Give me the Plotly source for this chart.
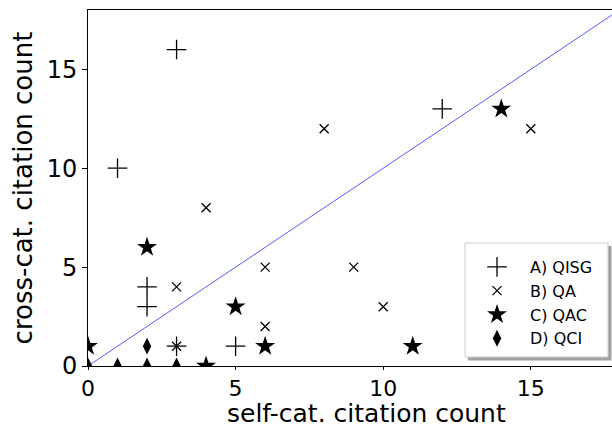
import plotly.graph_objects as go

# A) QISG
a_x = [3, 1, 12, 2, 2, 3, 5]
a_y = [16, 10, 13, 4, 3, 1, 1]
# B) QA
b_x = [8, 15, 4, 6, 9, 10, 3, 6, 3]
b_y = [12, 12, 8, 5, 5, 3, 4, 2, 1]
# C) QAC
c_x = [14, 2, 5, 0, 6, 11, 4]
c_y = [13, 6, 3, 1, 1, 1, 0]
# D) QCI
d_x = [2, 0, 1, 2, 3]
d_y = [1, 0, 0, 0, 0]

diag = [0, 18]
ticks = [0, 5, 10, 15]

fig = go.Figure()
fig.add_trace(go.Scatter(x=diag, y=diag, mode="lines",
                         line=dict(color="rgba(70,70,255,0.9)", width=1),
                         showlegend=False, hoverinfo="skip"))
fig.add_trace(go.Scatter(x=a_x, y=a_y, mode="markers", name="A) QISG",
                         marker=dict(symbol="cross-thin-open", size=14,
                                     line=dict(color="black", width=1.3), color="black")))
fig.add_trace(go.Scatter(x=b_x, y=b_y, mode="markers", name="B) QA",
                         marker=dict(symbol="x-thin-open", size=9,
                                     line=dict(color="black", width=1.3), color="black")))
fig.add_trace(go.Scatter(x=c_x, y=c_y, mode="markers", name="C) QAC",
                         marker=dict(symbol="star", size=15, color="black",
                                     line=dict(width=0))))
fig.add_trace(go.Scatter(x=d_x, y=d_y, mode="markers", name="D) QCI",
                         marker=dict(symbol="diamond-tall", size=12, color="black",
                                     line=dict(width=0))))

# legend frame with shadow
fig.add_shape(type="rect", xref="paper", yref="paper",
              x0=0.725, x1=0.999, y0=0.0154, y1=0.337,
              fillcolor="#a0a0a0", line=dict(width=0), layer="above")
fig.add_shape(type="rect", xref="paper", yref="paper",
              x0=0.7195, x1=0.9924, y0=0.0253, y1=0.3455,
              fillcolor="white", line=dict(color="#cccccc", width=1), layer="above")

# x-axis title (matplotlib centres it on the full, partly cropped axes)
fig.add_annotation(text="self-cat. citation count", xref="paper", yref="paper",
                   x=0.532, y=-0.1798, xanchor="center", yanchor="bottom",
                   showarrow=False, font=dict(size=25))

fig.update_layout(
    width=612, height=430,
    margin=dict(l=88, r=0, t=10, b=64),
    paper_bgcolor="white", plot_bgcolor="white",
    font=dict(family="DejaVu Sans", color="black"),
    showlegend=True,
    legend=dict(x=0.7176, xanchor="left", y=0.326, yanchor="top",
                bgcolor="rgba(0,0,0,0)", borderwidth=0,
                font=dict(size=16), itemwidth=56),
    xaxis=dict(range=[0, 17.75], tickvals=ticks, showgrid=False, zeroline=False,
               showline=True, linecolor="black", linewidth=1, mirror=True,
               ticks="outside", ticklen=3, tickcolor="black",
               tickfont=dict(size=22)),
    yaxis=dict(range=[0, 18], tickvals=ticks, showgrid=False, zeroline=False,
               showline=True, linecolor="black", linewidth=1,
               ticks="outside", ticklen=5, tickcolor="black",
               tickfont=dict(size=24),
               title=dict(text="cross-cat. citation count", font=dict(size=26), standoff=6)),
)

fig.write_html("out.html", config={"displayModeBar": False},
               post_script="document.body.style.margin='0';document.body.style.overflow='hidden';")
